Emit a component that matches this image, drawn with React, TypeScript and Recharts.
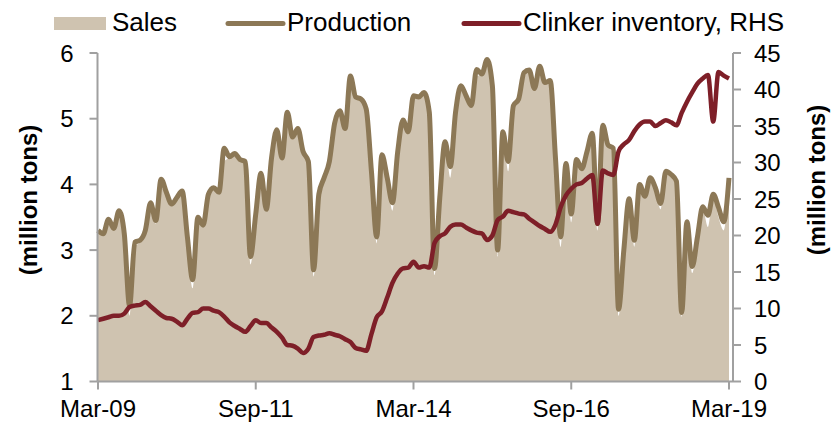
import React from "react";
import { ComposedChart, Area, Line, XAxis, YAxis } from "recharts";

const START_YEAR = 2009;
const START_MONTH = 2; // March (0-based)
const MONTH_NAMES = ["Jan", "Feb", "Mar", "Apr", "May", "Jun", "Jul", "Aug", "Sep", "Oct", "Nov", "Dec"];

const production = [
  3.30, 3.25, 3.47, 3.33, 3.60, 3.25, 2.15, 3.12, 3.15, 3.30,
  3.72, 3.45, 4.08, 3.88, 3.70, 3.80, 3.90, 3.20, 2.55, 3.50,
  3.38, 3.85, 3.95, 3.88, 4.55, 4.42, 4.47, 4.38, 4.35, 2.90,
  3.55, 4.17, 3.62, 4.40, 4.83, 4.40, 5.10, 4.72, 4.85, 4.50,
  4.35, 2.70, 3.85, 4.10, 4.35, 4.93, 5.12, 4.85, 5.65, 5.33,
  5.30, 5.15, 4.20, 3.20, 4.45, 4.10, 3.72, 4.50, 4.98, 4.80,
  5.35, 5.33, 5.40, 5.10, 2.72, 3.80, 4.65, 4.27, 5.10, 5.50,
  5.35, 5.20, 5.75, 5.68, 5.90, 5.50, 3.00, 4.80, 4.35, 5.20,
  5.30, 5.70, 5.74, 5.46, 5.80, 5.55, 5.58, 4.40, 3.20, 4.32,
  3.55, 4.38, 4.24, 4.50, 4.78, 3.40, 4.90, 4.60, 4.55, 2.10,
  3.00, 3.78, 3.15, 4.00, 3.82, 4.10, 3.95, 3.71, 4.20, 4.15,
  4.05, 2.05, 3.43, 2.75, 3.20, 3.66, 3.53, 3.85, 3.65, 3.43,
  4.10,
];

const sales = [
  3.30, 3.22, 3.45, 3.30, 3.58, 3.20, 2.00, 3.05, 3.12, 3.28,
  3.70, 3.40, 3.95, 3.85, 3.68, 3.78, 3.88, 3.15, 2.42, 3.45,
  3.35, 3.82, 3.92, 3.85, 4.35, 4.40, 4.45, 4.36, 4.33, 2.78,
  3.50, 4.15, 3.58, 4.38, 4.80, 4.38, 4.95, 4.70, 4.83, 4.48,
  4.33, 2.60, 3.82, 4.08, 4.33, 4.90, 5.10, 4.83, 5.55, 5.30,
  5.28, 5.13, 4.18, 3.10, 4.42, 4.08, 3.60, 4.48, 4.95, 4.78,
  5.33, 5.30, 5.38, 5.08, 2.62, 3.75, 4.62, 4.10, 5.08, 5.45,
  5.33, 5.18, 5.65, 5.66, 5.80, 5.48, 2.90, 4.78, 4.20, 5.18,
  5.28, 5.62, 5.72, 5.44, 5.70, 5.53, 5.56, 4.38, 3.05, 4.30,
  3.42, 4.36, 4.22, 4.48, 4.75, 3.30, 4.88, 4.58, 4.53, 2.00,
  2.95, 3.76, 3.05, 3.98, 3.80, 4.08, 3.93, 3.62, 4.18, 4.13,
  4.03, 1.98, 3.40, 2.65, 3.15, 3.63, 3.35, 3.82, 3.50, 3.30,
  4.08,
];

const clinker = [
  8.4, 8.6, 8.8, 9.0, 9.0, 9.3, 10.2, 10.4, 10.5, 10.9,
  10.3, 9.7, 9.1, 8.7, 8.6, 8.2, 7.7, 8.6, 9.4, 9.5,
  10.0, 10.0, 9.7, 9.5, 8.9, 8.1, 7.6, 7.2, 6.8, 7.6,
  8.4, 8.0, 8.0, 7.4, 6.8, 6.0, 5.0, 4.9, 4.5, 3.9,
  4.5, 6.1, 6.3, 6.4, 6.6, 6.4, 6.2, 5.8, 5.4, 4.6,
  4.4, 4.2, 6.5, 8.8, 9.6, 11.5, 13.5, 14.8, 15.5, 15.6,
  16.4, 15.6, 15.8, 15.6, 19.0, 19.9, 20.3, 21.2, 21.5, 21.5,
  21.1, 20.7, 20.4, 20.3, 19.4, 20.0, 22.1, 22.6, 23.4, 23.2,
  23.0, 22.9, 22.3, 21.8, 21.3, 20.9, 20.5, 21.5, 23.9, 25.5,
  26.4, 27.0, 27.2, 27.8, 28.3, 21.6, 28.9, 28.5, 28.3, 31.5,
  32.5, 33.1, 34.3, 35.2, 35.6, 35.6, 35.0, 35.4, 35.8, 35.5,
  35.1, 36.8, 38.3, 39.6, 40.8, 41.5, 42.0, 35.6, 42.4, 41.9,
  41.5,
];

const xTickIndex = [0, 30, 60, 90, 120];
const leftTicks = [1, 2, 3, 4, 5, 6];
const rightTicks = [0, 5, 10, 15, 20, 25, 30, 35, 40, 45];

const monthLabel = (i: number) => {
  const m = START_MONTH + i;
  const y = START_YEAR + Math.floor(m / 12);
  return `${MONTH_NAMES[m % 12]}-${String(y % 100).padStart(2, "0")}`;
};

const data = production.map((p, i) => ({
  i,
  month: monthLabel(i),
  sales: sales[i],
  production: p,
  clinker: clinker[i],
}));

const FONT = "'Liberation Sans', Arial, sans-serif";
const SALES_COLOR = "#CFC3B0";
const PROD_COLOR = "#8C7856";
const CLINKER_COLOR = "#7E1F28";
const AXIS_COLOR = "#A0A0A0";

export default function App() {
  const tickStyle = { fontSize: 24, fill: "#000", fontFamily: FONT };
  return (
    <div style={{ position: "absolute", left: 0, top: 0, width: 834, height: 428, background: "#fff" }}>
      <ComposedChart
        width={834}
        height={428}
        data={data}
        margin={{ top: 53, right: 0, bottom: 0, left: 0 }}
      >
        <XAxis
          dataKey="i"
          type="number"
          domain={[0, 120]}
          ticks={xTickIndex}
          tickFormatter={(v: number) => monthLabel(v)}
          padding={{ left: 0.5, right: 4 }}
          height={46.5}
          stroke={AXIS_COLOR}
          strokeWidth={2}
          tickSize={8}
          tickMargin={10}
          tick={tickStyle}
          interval={0}
        />
        <YAxis
          yAxisId="left"
          orientation="left"
          domain={[1, 6]}
          ticks={leftTicks}
          width={97.5}
          stroke={AXIS_COLOR}
          strokeWidth={2}
          tickSize={8}
          tickMargin={16}
          tick={tickStyle}
          allowDataOverflow
          interval={0}
        />
        <YAxis
          yAxisId="right"
          orientation="right"
          domain={[0, 45]}
          ticks={rightTicks}
          width={101}
          stroke={AXIS_COLOR}
          strokeWidth={2}
          tickSize={8}
          tickMargin={13}
          tick={tickStyle}
          allowDataOverflow
          interval={0}
        />
        <Area
          yAxisId="left"
          type="monotone"
          dataKey="sales"
          stroke="none"
          fill={SALES_COLOR}
          fillOpacity={1}
          isAnimationActive={false}
          dot={false}
          activeDot={false}
        />
        <Line
          yAxisId="left"
          type="monotone"
          dataKey="production"
          stroke={PROD_COLOR}
          strokeWidth={5}
          dot={false}
          activeDot={false}
          isAnimationActive={false}
        />
        <Line
          yAxisId="right"
          type="monotone"
          dataKey="clinker"
          stroke={CLINKER_COLOR}
          strokeWidth={4.5}
          dot={false}
          activeDot={false}
          isAnimationActive={false}
        />
      </ComposedChart>
      <svg
        width={834}
        height={428}
        style={{ position: "absolute", left: 0, top: 0, pointerEvents: "none" }}
      >
        <g fontFamily={FONT} fontSize={26} fill="#000">
          <rect x={54} y={17} width={52} height={13} fill={SALES_COLOR} />
          <text x={112} y={31}>Sales</text>
          <line x1={228} y1={23.5} x2={283} y2={23.5} stroke={PROD_COLOR} strokeWidth={5} strokeLinecap="round" />
          <text x={287} y={31}>Production</text>
          <line x1={464} y1={23.5} x2={519} y2={23.5} stroke={CLINKER_COLOR} strokeWidth={5} strokeLinecap="round" />
          <text x={523} y={31}>Clinker inventory, RHS</text>
        </g>
        <g fontFamily={FONT} fontSize={24} fontWeight="bold" fill="#000">
          <text x={0} y={0} textAnchor="middle" transform="translate(37 200) rotate(-90)">(million tons)</text>
          <text x={0} y={0} textAnchor="middle" transform="translate(825 180) rotate(-90)">(million tons)</text>
        </g>
      </svg>
    </div>
  );
}
